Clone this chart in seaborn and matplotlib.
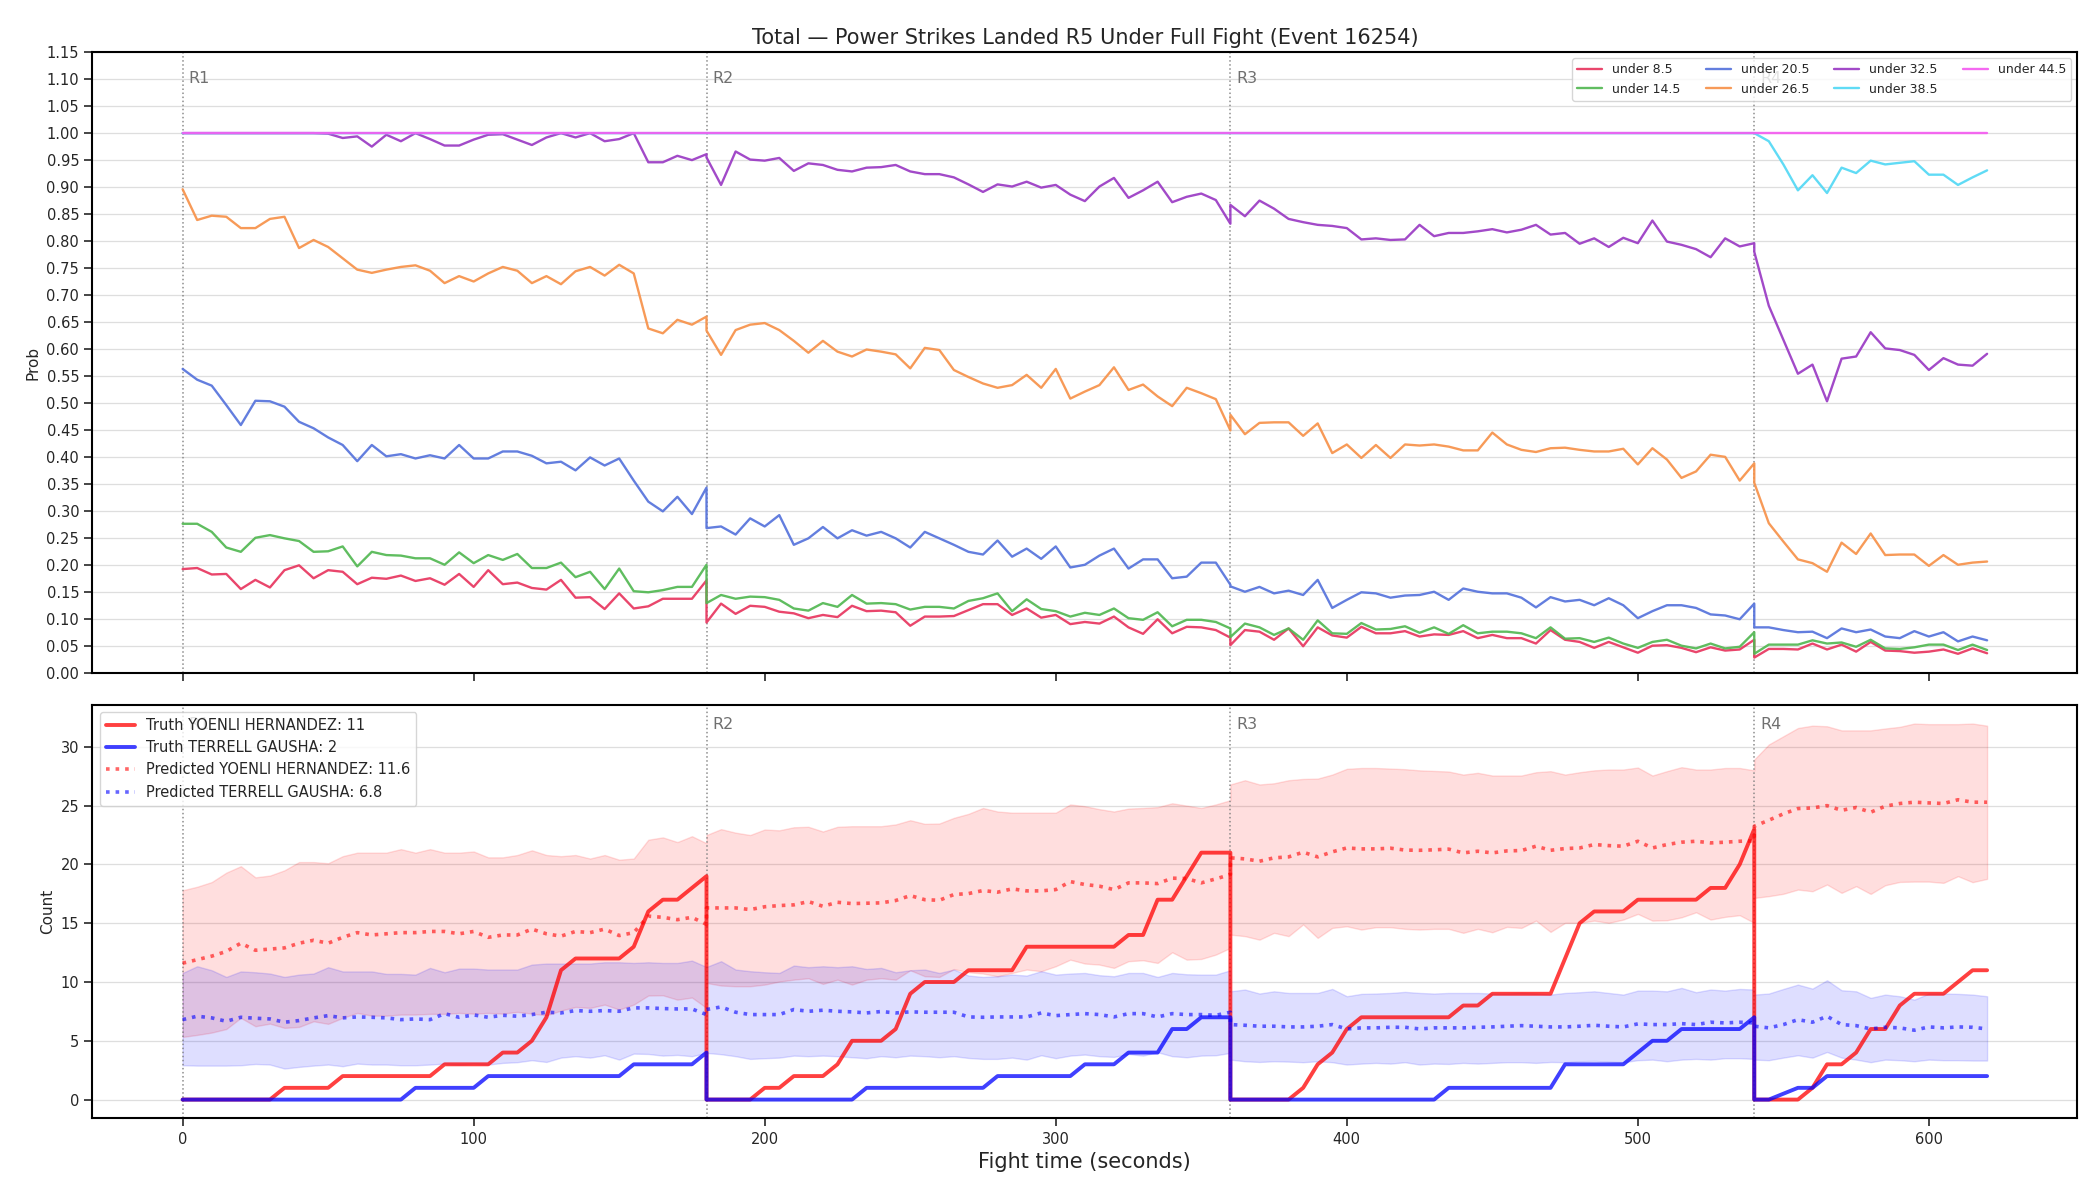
import numpy as np
import pandas as pd
import matplotlib
matplotlib.use("Agg")
import matplotlib.pyplot as plt
from matplotlib.lines import Line2D
import seaborn as sns

# ---------------- data ----------------
round_starts = [0, 180, 360, 540]
round_ends = [180, 360, 540, 620]
round_names = ["R1", "R2", "R3", "R4"]

title = "Total \u2014 Power Strikes Landed R5 Under Full Fight (Event 16254)"

# probability lines (R1 | R2 | R3 | R4), sampled every 5 s, each round restarts at its start time
u8_5 = [0.192,0.194,0.182,0.183,0.155,0.172,0.158,0.190,0.199,0.175,0.190,0.187,0.164,0.176,0.174,0.180,0.170,0.175,0.163,0.183,0.159,0.190,0.164,0.167,0.157,0.154,0.172,0.139,0.140,0.118,0.147,0.119,0.123,0.137,0.137,0.137,0.171,
        0.093,0.128,0.109,0.124,0.122,0.113,0.110,0.101,0.107,0.103,0.124,0.114,0.115,0.112,0.087,0.104,0.104,0.105,0.116,0.127,0.127,0.107,0.119,0.102,0.107,0.090,0.094,0.091,0.104,0.084,0.072,0.099,0.073,0.085,0.084,0.079,0.065,
        0.051,0.079,0.076,0.061,0.082,0.049,0.084,0.069,0.065,0.085,0.073,0.073,0.077,0.067,0.071,0.070,0.077,0.064,0.070,0.064,0.064,0.054,0.079,0.061,0.057,0.046,0.057,0.047,0.037,0.050,0.051,0.046,0.038,0.047,0.041,0.043,0.061,
        0.028,0.044,0.044,0.043,0.054,0.043,0.052,0.039,0.057,0.041,0.040,0.037,0.039,0.043,0.035,0.045,0.036]
u14_5 = [0.276,0.276,0.261,0.232,0.224,0.250,0.255,0.249,0.244,0.224,0.225,0.234,0.197,0.224,0.218,0.217,0.212,0.212,0.200,0.223,0.203,0.218,0.209,0.220,0.194,0.194,0.204,0.177,0.187,0.155,0.193,0.151,0.149,0.153,0.159,0.159,0.200,
         0.129,0.144,0.137,0.141,0.140,0.135,0.119,0.115,0.129,0.122,0.144,0.128,0.129,0.127,0.117,0.122,0.122,0.119,0.133,0.138,0.147,0.114,0.136,0.118,0.114,0.104,0.111,0.107,0.119,0.101,0.098,0.112,0.086,0.098,0.098,0.094,0.082,
         0.066,0.091,0.084,0.070,0.082,0.061,0.097,0.073,0.072,0.092,0.080,0.081,0.086,0.074,0.084,0.072,0.088,0.073,0.076,0.076,0.073,0.064,0.084,0.063,0.064,0.057,0.065,0.054,0.046,0.057,0.061,0.050,0.045,0.054,0.045,0.048,0.075,
         0.035,0.052,0.052,0.052,0.060,0.054,0.056,0.048,0.061,0.045,0.044,0.047,0.052,0.052,0.042,0.052,0.042]
u20_5 = [0.563,0.543,0.532,0.496,0.459,0.504,0.503,0.493,0.465,0.453,0.436,0.422,0.392,0.422,0.401,0.405,0.397,0.403,0.397,0.422,0.397,0.397,0.410,0.410,0.402,0.388,0.391,0.375,0.399,0.384,0.397,0.356,0.317,0.299,0.326,0.294,0.343,
         0.268,0.271,0.256,0.286,0.271,0.292,0.237,0.249,0.270,0.249,0.264,0.254,0.261,0.249,0.232,0.261,0.249,0.237,0.224,0.219,0.245,0.215,0.230,0.211,0.234,0.195,0.200,0.217,0.230,0.193,0.210,0.210,0.175,0.178,0.204,0.204,0.163,
         0.160,0.150,0.159,0.147,0.152,0.144,0.172,0.120,0.135,0.149,0.147,0.139,0.143,0.144,0.150,0.135,0.156,0.150,0.147,0.147,0.139,0.121,0.140,0.132,0.135,0.125,0.138,0.125,0.101,0.114,0.125,0.125,0.120,0.108,0.106,0.099,0.128,
         0.084,0.084,0.079,0.075,0.076,0.064,0.082,0.075,0.080,0.067,0.064,0.077,0.067,0.075,0.058,0.067,0.060]
u26_5 = [0.896,0.839,0.847,0.845,0.824,0.824,0.841,0.845,0.787,0.802,0.789,0.768,0.747,0.741,0.747,0.752,0.755,0.745,0.722,0.735,0.725,0.740,0.752,0.745,0.722,0.735,0.720,0.744,0.752,0.736,0.756,0.740,0.638,0.629,0.654,0.645,0.660,
         0.634,0.589,0.635,0.645,0.648,0.635,0.615,0.593,0.615,0.595,0.586,0.599,0.595,0.590,0.564,0.602,0.598,0.561,0.548,0.536,0.528,0.533,0.552,0.528,0.563,0.508,0.521,0.533,0.566,0.524,0.534,0.512,0.494,0.528,0.518,0.507,0.449,
         0.478,0.442,0.463,0.464,0.464,0.439,0.462,0.407,0.423,0.398,0.422,0.398,0.423,0.421,0.423,0.419,0.412,0.412,0.445,0.423,0.413,0.409,0.416,0.417,0.413,0.410,0.410,0.415,0.386,0.416,0.395,0.361,0.373,0.404,0.400,0.356,0.388,
         0.352,0.277,0.243,0.210,0.203,0.187,0.241,0.220,0.258,0.218,0.219,0.219,0.198,0.218,0.200,0.204,0.206]
u32_5 = [1.000,1.000,1.000,1.000,1.000,1.000,1.000,1.000,1.000,1.000,0.999,0.991,0.994,0.975,0.997,0.985,1.000,0.989,0.977,0.977,0.988,0.997,0.998,0.988,0.978,0.992,1.000,0.992,1.000,0.985,0.989,1.000,0.946,0.946,0.958,0.950,0.961,
         0.955,0.904,0.966,0.951,0.949,0.954,0.930,0.944,0.941,0.932,0.929,0.936,0.937,0.941,0.929,0.924,0.924,0.918,0.905,0.891,0.905,0.901,0.910,0.899,0.904,0.886,0.874,0.901,0.917,0.880,0.894,0.910,0.872,0.882,0.888,0.876,0.832,
         0.867,0.846,0.875,0.860,0.841,0.835,0.830,0.828,0.824,0.803,0.805,0.802,0.803,0.830,0.809,0.815,0.815,0.818,0.822,0.816,0.821,0.830,0.812,0.815,0.795,0.805,0.789,0.806,0.796,0.838,0.799,0.793,0.785,0.770,0.805,0.790,0.796,
         0.780,0.680,0.617,0.554,0.571,0.503,0.582,0.586,0.631,0.601,0.598,0.589,0.561,0.583,0.571,0.569,0.591]
u38_5 = [1.0,1.0,1.0,1.0,1.0,1.0,1.0,1.0,1.0,1.0,1.0,1.0,1.0,1.0,1.0,1.0,1.0,1.0,1.0,1.0,1.0,1.0,1.0,1.0,1.0,1.0,1.0,1.0,1.0,1.0,1.0,1.0,1.0,1.0,1.0,1.0,1.0,
         1.0,1.0,1.0,1.0,1.0,1.0,1.0,1.0,1.0,1.0,1.0,1.0,1.0,1.0,1.0,1.0,1.0,1.0,1.0,1.0,1.0,1.0,1.0,1.0,1.0,1.0,1.0,1.0,1.0,1.0,1.0,1.0,1.0,1.0,1.0,1.0,1.0,
         1.0,1.0,1.0,1.0,1.0,1.0,1.0,1.0,1.0,1.0,1.0,1.0,1.0,1.0,1.0,1.0,1.0,1.0,1.0,1.0,1.0,1.0,1.0,1.0,1.0,1.0,1.0,1.0,1.0,1.0,1.0,1.0,1.0,1.0,1.0,1.0,1.0,
         1.000,0.985,0.942,0.894,0.922,0.889,0.936,0.926,0.949,0.942,0.945,0.948,0.923,0.923,0.904,0.918,0.931]
u44_5 = [1.0,1.0,1.0,1.0,1.0,1.0,1.0,1.0,1.0,1.0,1.0,1.0,1.0,1.0,1.0,1.0,1.0,1.0,1.0,1.0,1.0,1.0,1.0,1.0,1.0,1.0,1.0,1.0,1.0,1.0,1.0,1.0,1.0,1.0,1.0,1.0,1.0,
         1.0,1.0,1.0,1.0,1.0,1.0,1.0,1.0,1.0,1.0,1.0,1.0,1.0,1.0,1.0,1.0,1.0,1.0,1.0,1.0,1.0,1.0,1.0,1.0,1.0,1.0,1.0,1.0,1.0,1.0,1.0,1.0,1.0,1.0,1.0,1.0,1.0,
         1.0,1.0,1.0,1.0,1.0,1.0,1.0,1.0,1.0,1.0,1.0,1.0,1.0,1.0,1.0,1.0,1.0,1.0,1.0,1.0,1.0,1.0,1.0,1.0,1.0,1.0,1.0,1.0,1.0,1.0,1.0,1.0,1.0,1.0,1.0,1.0,1.0,
         1.0,1.0,1.0,1.0,1.0,1.0,1.0,1.0,1.0,1.0,1.0,1.0,1.0,1.0,1.0,1.0,1.0]

prob_labels = ["under 8.5", "under 14.5", "under 20.5", "under 26.5", "under 32.5", "under 38.5", "under 44.5"]
prob_colors = ["#e8365f", "#52b852", "#5673dc", "#f7924a", "#9a3ac4", "#52d8f5", "#f45cf0"]

# counts
fighter_a = "YOENLI HERNANDEZ"
fighter_b = "TERRELL GAUSHA"
truth_a_final = 11
truth_b_final = 2
pred_a_label = 11.6
pred_b_label = 6.8

truth_a = [0,0,0,0,0,0,0,1,1,1,1,2,2,2,2,2,2,2,3,3,3,3,4,4,5,7,11,12,12,12,12,13,16,17,17,18,19,
           0,0,0,0,1,1,2,2,2,3,5,5,5,6,9,10,10,10,11,11,11,11,13,13,13,13,13,13,13,14,14,17,17,19,21,21,21,
           0,0,0,0,0,1,3,4,6,7,7,7,7,7,7,7,8,8,9,9,9,9,9,12,15,16,16,16,17,17,17,17,17,18,18,20,23,
           0,0,0,0,1,3,3,4,6,6,8,9,9,9,10,11,11]
truth_b = [0,0,0,0,0,0,0,0,0,0,0,0,0,0,0,0,1,1,1,1,1,2,2,2,2,2,2,2,2,2,2,3,3,3,3,3,4,
           0,0,0,0,0,0,0,0,0,0,0,1,1,1,1,1,1,1,1,1,2,2,2,2,2,2,3,3,3,4,4,4,6,6,7,7,7,
           0,0,0,0,0,0,0,0,0,0,0,0,0,0,0,1,1,1,1,1,1,1,1,3,3,3,3,3,4,5,5,6,6,6,6,6,7,
           0,0,0.5,1,1,2,2,2,2,2,2,2,2,2,2,2,2]
pred_a = [11.6,11.9,12.2,12.6,13.3,12.7,12.8,12.9,13.3,13.55,13.3,13.8,14.2,14.0,14.1,14.2,14.2,14.3,14.3,14.1,14.3,13.8,14.0,14.0,14.5,14.1,13.9,14.3,14.2,14.5,13.95,14.2,15.6,15.5,15.3,15.5,14.9,
          16.3,16.3,16.3,16.16,16.4,16.5,16.56,16.84,16.44,16.78,16.67,16.7,16.73,16.93,17.35,17.0,16.95,17.44,17.52,17.78,17.64,17.92,17.75,17.75,17.86,18.54,18.29,18.15,17.86,18.43,18.43,18.37,18.83,18.8,18.43,18.77,19.14,
          20.56,20.47,20.27,20.56,20.64,21.04,20.64,21.07,21.4,21.32,21.32,21.38,21.22,21.2,21.24,21.3,20.98,21.12,20.98,21.15,21.18,21.55,21.2,21.35,21.4,21.69,21.6,21.55,21.97,21.4,21.69,21.89,21.97,21.83,21.89,21.97,22.0,
          23.25,23.76,24.3,24.75,24.8,25.0,24.6,24.84,24.44,24.95,25.18,25.29,25.23,25.18,25.5,25.29,25.29]
pred_b = [6.8,7.09,6.95,6.66,7.0,6.92,6.86,6.58,6.72,6.95,7.14,6.95,7.03,7.0,6.95,6.8,6.86,6.8,7.31,7.0,7.2,7.0,7.17,7.09,7.23,7.43,7.37,7.57,7.51,7.57,7.51,7.8,7.8,7.74,7.71,7.71,7.23,
          7.66,7.88,7.43,7.23,7.23,7.23,7.66,7.51,7.6,7.51,7.46,7.37,7.49,7.37,7.46,7.43,7.43,7.43,7.03,7.0,7.03,7.03,7.03,7.37,7.14,7.23,7.31,7.23,7.03,7.31,7.31,7.03,7.31,7.23,7.23,7.17,7.43,
          6.38,6.32,6.24,6.24,6.18,6.18,6.24,6.38,6.01,6.1,6.1,6.15,6.15,6.01,6.1,6.1,6.1,6.15,6.18,6.24,6.29,6.24,6.18,6.18,6.24,6.32,6.24,6.18,6.44,6.38,6.38,6.46,6.38,6.58,6.52,6.58,6.52,
          6.24,6.1,6.38,6.8,6.58,7.09,6.38,6.29,6.01,6.15,6.1,5.9,6.18,6.1,6.18,6.15,6.01]
band_a_lo = [5.33,5.5,5.7,6.0,6.95,6.24,6.46,6.1,6.18,6.66,6.44,6.95,7.37,7.14,7.14,7.23,7.23,7.29,7.29,7.37,7.31,7.37,7.31,7.46,7.31,7.17,7.57,7.88,7.8,8.08,7.66,8.08,8.85,8.87,8.5,8.68,7.8,
             9.92,9.7,9.64,9.64,9.78,10.04,10.2,10.32,9.84,10.2,9.78,10.2,10.32,10.2,11.0,10.49,10.43,11.1,10.83,10.72,10.49,10.77,11.06,10.92,11.34,11.9,11.57,11.48,11.2,11.77,11.85,11.62,12.53,11.9,11.96,12.33,12.9,
             14.03,13.9,13.6,14.18,13.9,14.9,13.75,14.6,14.74,14.46,14.66,14.66,14.52,14.46,14.52,14.52,14.18,14.52,14.23,14.69,14.6,15.22,14.26,15.03,15.03,15.22,15.03,15.31,15.79,15.22,15.25,15.5,15.93,15.31,15.54,15.68,15.03,
             17.15,17.3,17.5,17.86,17.72,18.29,17.58,18.15,17.49,18.23,18.51,18.54,18.54,18.43,19.0,18.49,18.77]
band_a_hi = [17.8,18.1,18.5,19.3,19.85,18.9,19.05,19.5,20.2,20.2,20.1,20.7,21.0,21.0,21.0,21.3,21.0,21.3,21.0,21.0,21.1,20.6,20.6,20.8,21.2,20.8,20.7,20.8,20.5,20.8,20.4,20.5,22.1,22.3,21.9,22.4,21.8,
             22.5,23.0,22.7,22.5,22.97,22.9,23.16,23.2,22.8,23.2,23.25,23.25,23.25,23.4,23.76,23.45,23.48,23.96,24.3,24.8,24.5,24.4,24.4,24.4,24.4,25.1,24.95,24.7,24.5,24.75,24.8,24.87,25.2,25.0,24.8,25.1,25.46,
             26.8,27.16,26.8,26.9,27.16,27.27,27.3,27.64,28.13,28.2,28.2,28.15,28.1,28.0,27.95,27.9,27.64,27.79,27.56,27.56,27.56,27.84,27.93,27.64,27.84,28.0,28.07,28.07,28.24,27.56,27.93,28.27,28.07,28.07,28.2,28.2,28.0,
             28.92,30.2,30.9,31.6,31.8,31.75,31.4,31.4,31.4,31.56,31.7,31.98,31.93,31.93,31.93,31.98,31.8]
band_b_lo = [2.92,2.89,2.89,2.89,2.92,3.03,2.98,2.64,2.78,2.89,2.98,2.84,3.06,2.98,2.98,2.92,2.92,2.98,3.06,2.98,3.06,2.98,3.12,3.18,3.35,3.2,3.57,3.69,3.57,3.77,3.4,3.91,3.88,3.74,3.8,3.69,3.97,
             3.97,3.86,3.69,3.46,3.52,3.57,3.74,3.69,3.74,3.69,3.6,3.52,3.69,3.6,3.74,3.69,3.6,3.69,3.54,3.46,3.46,3.57,3.4,3.77,3.52,3.74,3.83,3.69,3.63,3.88,3.74,4.03,3.69,3.6,3.74,3.77,3.97,
             3.4,3.26,3.2,3.26,3.23,3.18,3.26,3.18,2.98,3.06,3.12,3.06,3.18,2.98,3.06,3.03,3.12,3.06,3.12,3.18,3.18,3.12,3.2,3.18,3.26,3.29,3.23,3.18,3.35,3.4,3.26,3.4,3.46,3.4,3.52,3.52,3.46,
             3.4,3.35,3.57,3.77,3.57,4.05,3.57,3.4,3.18,3.4,3.35,3.26,3.4,3.35,3.35,3.32,3.32]
band_b_hi = [10.77,11.34,11.0,10.43,10.9,10.83,10.72,10.43,10.63,10.72,11.26,10.9,10.9,10.9,10.69,10.69,10.63,11.2,10.83,11.14,11.14,11.06,11.06,11.06,11.48,11.57,11.57,11.57,11.57,11.68,11.68,11.62,11.68,11.62,11.62,11.82,11.28,
             11.28,11.77,11.06,10.92,10.83,10.77,11.4,11.26,11.34,11.26,11.34,11.11,11.2,10.83,11.0,11.06,10.77,11.06,10.55,10.43,10.49,10.63,10.55,10.92,10.63,10.72,10.77,10.58,10.49,10.77,10.77,10.43,10.77,10.66,10.63,10.63,11.0,
             9.21,9.36,9.02,9.21,9.07,9.07,9.07,9.41,8.79,8.99,9.02,9.07,9.16,9.07,9.02,9.07,9.07,9.07,9.02,9.02,9.07,9.02,8.93,9.07,9.13,9.21,9.07,8.93,9.27,9.27,9.21,9.5,9.13,9.36,9.27,9.41,9.36,
             8.93,9.02,9.41,9.78,9.44,10.15,9.3,9.21,8.65,8.93,8.79,8.5,9.02,9.02,8.99,8.93,8.79]

# time axis: each round sampled every 5 s from its start to its end
time = []
for s, e in zip(round_starts, round_ends):
    time += list(range(s, e + 1, 5))
time = np.array(time, dtype=float)

# ---------------- style ----------------
sns.set_style("ticks")
plt.rcParams["font.family"] = ["DejaVu Sans"]

fig, (ax1, ax2) = plt.subplots(2, 1, figsize=(21, 12), dpi=100, sharex=True,
                               gridspec_kw={"height_ratios": [3, 2]})
fig.subplots_adjust(left=0.044, right=0.9892, top=0.9565, bottom=0.068, hspace=0.062)

# ---------------- top panel ----------------
series = [u8_5, u14_5, u20_5, u26_5, u32_5, u38_5, u44_5]
df_top = pd.concat([pd.DataFrame({"time": time, "prob": s, "line": lab})
                    for s, lab in zip(series, prob_labels)], ignore_index=True)
sns.lineplot(data=df_top, x="time", y="prob", hue="line", hue_order=prob_labels,
             palette=dict(zip(prob_labels, prob_colors)), estimator=None, sort=False,
             linewidth=1.7, alpha=0.92, ax=ax1, legend=False)

ax1.set_ylim(0, 1.15)
ax1.set_yticks(np.round(np.arange(0, 1.1501, 0.05), 2))
ax1.set_yticklabels([f"{v:.2f}" for v in np.arange(0, 1.1501, 0.05)])
ax1.set_ylabel("Prob", fontsize=11)
ax1.set_xlabel("")
ax1.set_title(title, fontsize=15)
handles = [Line2D([0], [0], color=c, lw=1.7, alpha=0.92) for c in prob_colors]
ax1.legend(handles, prob_labels, ncol=4, loc="upper right", fontsize=9)

# ---------------- bottom panel ----------------
ax2.fill_between(time, band_a_lo, band_a_hi, color="red", alpha=0.13)
ax2.fill_between(time, band_b_lo, band_b_hi, color="blue", alpha=0.13)
sns.lineplot(x=time, y=truth_a, color="red", alpha=0.75, linewidth=2.8,
             estimator=None, sort=False, ax=ax2)
sns.lineplot(x=time, y=truth_b, color="blue", alpha=0.75, linewidth=2.8,
             estimator=None, sort=False, ax=ax2)
sns.lineplot(x=time, y=pred_a, color="red", alpha=0.6, linewidth=2.6, linestyle=":",
             estimator=None, sort=False, ax=ax2)
sns.lineplot(x=time, y=pred_b, color="blue", alpha=0.6, linewidth=2.6, linestyle=":",
             estimator=None, sort=False, ax=ax2)

ax2.set_ylabel("Count", fontsize=11)
ax2.set_xlabel("Fight time (seconds)", fontsize=15)
leg_handles = [Line2D([0], [0], color="red", alpha=0.75, lw=2.8),
               Line2D([0], [0], color="blue", alpha=0.75, lw=2.8),
               Line2D([0], [0], color="red", alpha=0.6, lw=2.6, ls=":"),
               Line2D([0], [0], color="blue", alpha=0.6, lw=2.6, ls=":")]
leg_labels = [f"Truth {fighter_a}: {truth_a_final}", f"Truth {fighter_b}: {truth_b_final}",
              f"Predicted {fighter_a}: {pred_a_label}", f"Predicted {fighter_b}: {pred_b_label}"]
ax2.legend(leg_handles, leg_labels, loc="upper left", fontsize=10.5)

# ---------------- shared decorations ----------------
for ax in (ax1, ax2):
    ax.grid(axis="y", color="#dedede", linewidth=0.9)
    ax.set_axisbelow(True)
    for sp in ax.spines.values():
        sp.set_visible(True)
        sp.set_color("black")
        sp.set_linewidth(1.5)
    ax.tick_params(labelsize=10.5, length=6, width=1.2, direction="out")
    for t0, name in zip(round_starts, round_names):
        ax.axvline(t0, color="gray", linestyle=":", linewidth=1.1, alpha=0.9, zorder=1)
        ax.text(t0 + 2, 0.97, name, transform=ax.get_xaxis_transform(), ha="left", va="top",
                color="#707070", fontsize=11.5, zorder=2)

fig.savefig("out.png", dpi=100)
